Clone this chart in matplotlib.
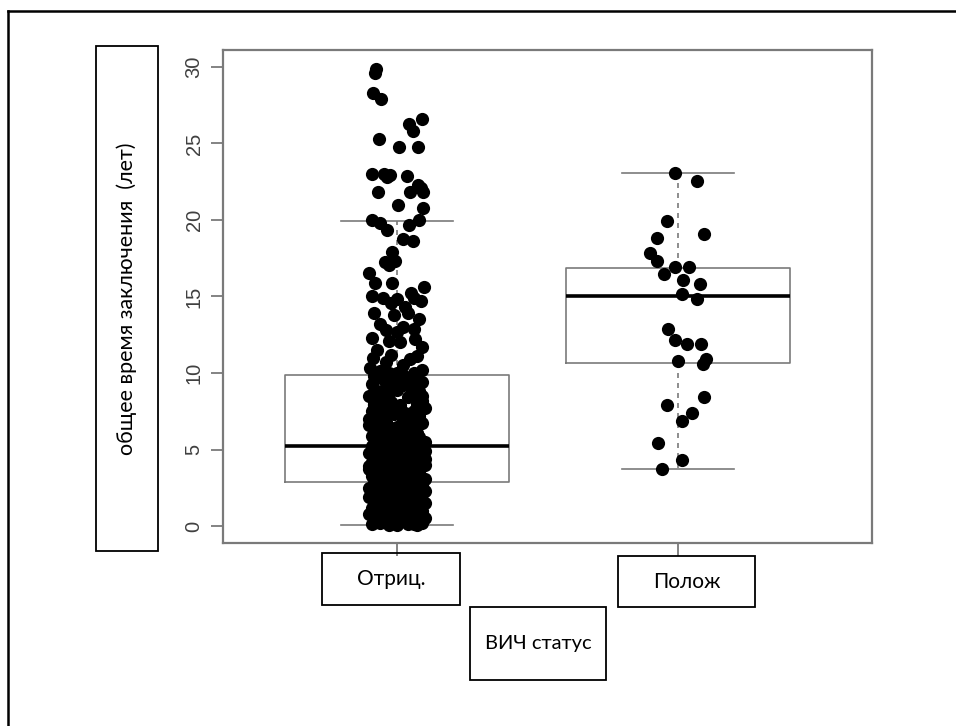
import numpy as np
import matplotlib.pyplot as plt
from matplotlib.patches import Rectangle
from matplotlib.lines import Line2D

# groups (HIV status)
groups = ["Отриц.", "Полож"]
ylabel = "общее время заключения  (лет)"
xlabel = "ВИЧ статус"

# box statistics
q1s = [2.9, 10.63]
medians = [5.25, 15.03]
q3s = [9.9, 16.85]
whislo = [0.07, 3.73]
whishi = [19.95, 23.1]

# group 1 (negative): values and horizontal jitter
neg_vals = [
    29.9, 29.6, 28.3, 27.9, 26.6, 26.3, 25.8, 25.3, 24.75, 24.75,
    23.0, 23.0, 22.95, 22.8, 22.9, 22.3, 21.8, 21.8, 21.8, 22.1,
    21.0, 20.8, 20.0, 19.8, 19.35, 19.7, 20.0, 18.75, 18.6, 17.9,
    17.25, 17.05, 17.35, 16.55, 15.9, 15.87, 15.6,
    15.2, 15.0, 14.9, 14.85, 14.9, 14.7, 14.6, 14.3, 13.9, 13.8,
    13.9, 13.5, 13.2, 13.0, 12.8, 12.7, 12.9, 12.3, 12.1, 12.0,
    12.2, 11.7, 11.5, 11.2, 11.0, 10.9, 11.1, 10.7, 10.5, 10.3,
    10.2, 10.1, 10.0, 10.0, 10.0,
    9.8, 9.7, 9.6, 9.5, 9.5, 9.4, 9.3, 9.2, 9.1, 9.0,
    8.9, 8.8, 8.8, 8.7, 8.6, 8.5, 8.4, 8.3, 8.2, 8.1,
    8.0, 8.0, 7.9, 7.8, 7.7, 7.6, 7.5, 7.5, 7.4, 7.3,
    7.2, 7.1, 7.0, 7.0, 6.9, 6.8, 6.7, 6.6, 6.5, 6.5,
    6.4, 6.3, 6.2, 6.1, 6.0, 6.0, 5.9, 5.8, 5.8, 5.7,
    5.6, 5.5, 5.5, 5.4, 5.4, 5.3, 9.9, 9.0, 8.5, 7.9,
    7.0, 6.6, 6.0, 5.5, 5.3, 8.2, 7.4, 6.8, 9.3, 5.9,
    5.2, 5.2, 5.1, 5.1, 5.0, 5.0, 5.0, 4.9, 4.9, 4.8,
    4.8, 4.7, 4.7, 4.6, 4.6, 4.5, 4.5, 4.5, 4.4, 4.4,
    4.3, 4.3, 4.2, 4.2, 4.1, 4.1, 4.0, 4.0, 4.0, 3.9,
    3.9, 3.8, 3.8, 3.7, 3.7, 3.6, 3.6, 3.5, 3.5, 3.5,
    3.4, 3.4, 3.3, 3.3, 3.2, 3.2, 3.1, 3.1, 3.0, 3.0,
    3.0, 2.95, 2.9, 5.15, 4.85, 4.55, 4.25, 3.95, 3.65, 3.35,
    3.05, 4.75, 4.15, 3.55, 5.05, 4.35, 3.85, 3.15, 4.65, 3.45,
    2.85, 2.8, 2.8, 2.7, 2.7, 2.6, 2.6, 2.5, 2.5, 2.5,
    2.4, 2.4, 2.3, 2.3, 2.2, 2.2, 2.1, 2.1, 2.0, 2.0,
    2.0, 1.9, 1.9, 1.8, 1.8, 1.7, 1.7, 1.6, 1.6, 1.5,
    1.5, 1.5, 1.4, 1.4, 1.3, 1.3, 1.2, 1.2, 1.1, 1.1,
    1.0, 1.0, 1.0, 0.9, 0.9, 0.8, 0.8, 0.7, 0.7, 0.6,
    0.6, 0.5, 0.5, 0.5, 0.4, 0.4, 0.3, 0.3, 0.2, 0.2,
    0.1, 0.1, 0.07, 0.07, 0.08, 0.15, 1.25, 2.25, 0.75, 1.75,
]
neg_jit = [
    -0.073, -0.079, -0.085, -0.058, 0.088, 0.044, 0.056, -0.064, 0.007, 0.076,
    -0.088, -0.045, -0.025, -0.034, 0.035, 0.076, -0.069, 0.046, 0.094, 0.085,
    0.005, 0.091, -0.088, -0.061, -0.035, 0.044, 0.08, 0.021, 0.058, -0.019,
    -0.043, -0.027, -0.007, -0.099, -0.079, -0.019, 0.096,
    0.05, -0.09, -0.05, 0.0, 0.06, 0.085, -0.02, 0.03, -0.08, -0.01,
    0.04, 0.08, -0.06, 0.02, -0.04, 0.0, 0.06, -0.09, -0.03, 0.01,
    0.065, 0.09, -0.07, -0.02, -0.085, 0.045, 0.07, -0.04, 0.02, -0.095,
    0.09, -0.06, 0.0, 0.06, -0.03,
    -0.08, 0.03, -0.05, 0.07, -0.01, 0.09, -0.09, 0.02, -0.04, 0.06,
    0.00, -0.07, 0.08, -0.03, 0.05, -0.10, 0.04, -0.06, 0.09, -0.02,
    0.07, -0.08, 0.01, -0.05, 0.10, -0.03, 0.06, -0.09, 0.03, -0.01,
    0.08, -0.06, 0.02, -0.10, 0.05, -0.04, 0.09, -0.07, 0.00, 0.06,
    -0.02, 0.04, -0.08, 0.07, -0.05, 0.01, -0.09, 0.08, -0.03, 0.05,
    -0.06, 0.10, -0.01, 0.03, -0.07, 0.06, 0.02, -0.04, 0.09, -0.08,
    0.04, -0.10, 0.07, -0.02, 0.01, -0.05, 0.08, -0.09, 0.05, 0.00,
    0.05, -0.09, 0.02, 0.08, -0.04, 0.00, -0.07, 0.10, -0.02, 0.06,
    -0.10, 0.03, -0.06, 0.09, -0.01, 0.07, -0.08, 0.04, -0.03, 0.01,
    0.08, -0.05, 0.06, -0.09, 0.02, -0.07, 0.10, -0.02, 0.04, -0.06,
    0.09, -0.04, 0.00, 0.07, -0.10, 0.05, -0.01, 0.03, -0.08, 0.08,
    -0.05, 0.02, -0.09, 0.06, 0.00, -0.03, 0.10, -0.07, 0.04, -0.01,
    0.07, -0.06, 0.01, -0.08, 0.09, -0.02, 0.05, -0.10, 0.03, -0.04,
    0.08, 0.00, -0.07, 0.06, -0.03, 0.10, -0.09, 0.02, -0.05, 0.07,
    -0.03, 0.06, -0.08, 0.01, 0.09, -0.05, 0.04, -0.10, 0.07, -0.01,
    0.03, -0.07, 0.10, -0.04, 0.05, -0.09, 0.00, 0.08, -0.06, 0.02,
    -0.02, 0.07, -0.10, 0.04, -0.05, 0.09, -0.01, 0.06, -0.08, 0.03,
    0.10, -0.04, 0.01, -0.07, 0.08, -0.03, 0.05, -0.09, 0.02, 0.07,
    -0.06, 0.00, 0.09, -0.02, 0.04, -0.10, 0.06, -0.05, 0.01, 0.08,
    -0.08, 0.03, -0.04, 0.10, -0.01, 0.05, -0.07, 0.02, 0.09, -0.06,
    0.04, -0.09, 0.07, -0.03, 0.00, 0.06, -0.02, 0.08, -0.05, 0.01,
]

# group 2 (positive)
pos_vals = [23.1, 22.55, 19.93, 19.06, 18.8, 17.87, 17.35, 16.9, 16.9, 16.45,
            16.08, 15.82, 15.16, 14.82, 12.88, 12.16, 11.9, 11.9, 10.8, 10.9,
            10.57, 8.41, 7.9, 7.37, 6.88, 5.44, 4.31, 3.73]
pos_jit = [-0.011, 0.067, -0.04, 0.094, -0.076, -0.1, -0.074, -0.011, 0.039, -0.05,
           0.017, 0.079, 0.015, 0.067, -0.035, -0.011, 0.033, 0.081, 0.001, 0.099,
           0.088, 0.094, -0.04, 0.051, 0.015, -0.072, 0.013, -0.058]

W, H = 956, 726
fig = plt.figure(figsize=(W / 100, H / 100), dpi=100)
ax = fig.add_axes([223 / W, 1 - 543 / H, 649 / W, 493 / H])

stats = []
for i in range(len(groups)):
    stats.append(dict(q1=q1s[i], med=medians[i], q3=q3s[i],
                      whislo=whislo[i], whishi=whishi[i]))

gray = "#7a7a7a"
ax.bxp(stats, positions=[1, 2], widths=0.8, showfliers=False,
       boxprops=dict(color=gray, lw=1.2),
       medianprops=dict(color="black", lw=2.6),
       whiskerprops=dict(color=gray, lw=1.2, linestyle=(0, (3, 3))),
       capprops=dict(color=gray, lw=1.2), capwidths=0.4)

ax.plot(1 + np.array(neg_jit), neg_vals, "o", color="black", ms=9.5, mec="none", zorder=5)
ax.plot(2 + np.array(pos_jit), pos_vals, "o", color="black", ms=9.5, mec="none", zorder=5)

ax.set_xlim(0.381, 2.69)
ax.set_ylim(-1.11, 31.11)
ax.set_yticks([0, 5, 10, 15, 20, 25, 30])
ax.set_xticks([1, 2])
ax.set_xticklabels(["", ""])
for s in ax.spines.values():
    s.set_color(gray)
    s.set_linewidth(1.6)
ax.tick_params(axis="both", colors=gray, length=9, width=1.3)
ax.tick_params(axis="y", labelcolor="#404040", labelsize=14.5, pad=5)
for lab in ax.get_yticklabels():
    lab.set_rotation(90)
    lab.set_va("center")
    lab.set_family("Liberation Sans")

# boxed labels, like in the source image
def boxed(x0, y0, x1, y1, text, rot=0, size=12.5):
    fig.patches.append(Rectangle((x0 / W, 1 - y1 / H), (x1 - x0) / W, (y1 - y0) / H,
                                 transform=fig.transFigure, fill=False,
                                 ec="black", lw=1.3))
    fig.text((x0 + x1) / 2 / W, 1 - (y0 + y1) / 2 / H, text, rotation=rot,
             ha="center", va="center", fontsize=size, family="Lato")

boxed(96, 46, 158, 551, ylabel, rot=90, size=15.5)
boxed(322, 553, 460, 605, groups[0], size=15)
boxed(618, 556, 755, 607, groups[1], size=15)
boxed(470, 607, 606, 680, xlabel, size=14.5)

# outer frame (top and left edges are visible)
fig.lines.append(Line2D([8 / W, 8 / W], [0, 1 - 11 / H], transform=fig.transFigure,
                        color="black", lw=1.8))
fig.lines.append(Line2D([8 / W, 1], [1 - 11 / H, 1 - 11 / H], transform=fig.transFigure,
                        color="black", lw=1.8))

fig.savefig("out.png", dpi=100)
